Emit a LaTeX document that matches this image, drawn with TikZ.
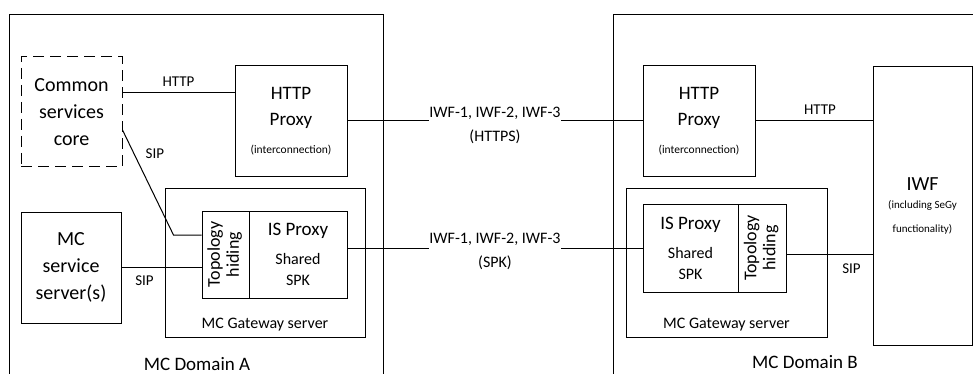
\documentclass[tikz,border=0pt]{standalone}
\usepackage{fontspec}
\setmainfont{Carlito}
\usetikzlibrary{positioning}

\begin{document}
\begin{tikzpicture}[x=1pt, y=-1pt]
\tikzstyle{box} = [rectangle, draw=black, line width=1pt, inner sep=0pt, align=center]
\tikzstyle{dashbox} = [box, dash pattern=on 11pt off 6pt]
\tikzstyle{link} = [line width=1pt]
\tikzstyle{lbl} = [inner sep=1pt, font=\fontsize{15}{18}\selectfont]
\tikzstyle{iwflbl} = [inner sep=0pt, fill=white, align=center, font=\fontsize{16}{24}\selectfont]
\tikzstyle{bigtxt} = [font=\fontsize{20}{27}\selectfont]
\tikzstyle{proxytxt} = [font=\fontsize{19}{26}\selectfont]
\tikzstyle{istxt} = [font=\fontsize{16}{21}\selectfont]
\tikzstyle{topotxt} = [font=\fontsize{18}{19}\selectfont]
\tikzstyle{gwtxt} = [inner sep=0pt, font=\fontsize{16}{19}\selectfont]
\tikzstyle{domtxt} = [inner sep=0pt, font=\fontsize{19}{23}\selectfont]

\useasboundingbox (0,0) rectangle (973,374);
\clip (0,0) rectangle (973,374);

% Domains
\node (domA) [box, minimum width=374pt, minimum height=405pt] at (196,217.5) {};
\node (domB) [box, minimum width=387pt, minimum height=405pt] at (806.5,217.5) {};

% Domain A
\node (csc) [dashbox, bigtxt, minimum width=101pt, minimum height=110pt] at (71.5,112) {Common\\services\\core};
\node (proxyA) [box, proxytxt, minimum width=112pt, minimum height=110pt] at (291,121) {HTTP\\Proxy\\[2pt]{\fontsize{11.5}{14}\selectfont (interconnection)}};
\node (mcs) [box, bigtxt, minimum width=100pt, minimum height=111pt] at (71,267.5) {MC\\service\\server(s)};
\node (gwA) [box, minimum width=200pt, minimum height=149pt] at (265,262.5) {};
\node (topoA) [box, topotxt, minimum width=47pt, minimum height=87pt] at (225.5,254.5) {\rotatebox{90}{\begin{tabular}{@{}c@{}}Topology\\hiding\end{tabular}}};
\node (isA) [box, istxt, minimum width=98pt, minimum height=87pt] at (298,254.5) {{\fontsize{19}{21}\selectfont IS Proxy}\\[8pt]Shared\\SPK};
\node (gwAtxt) [gwtxt, above=6pt of gwA.south] {MC Gateway server};
\node (domAtxt) [domtxt] at (197,364) {MC Domain A};

% Domain B
\node (proxyB) [box, proxytxt, minimum width=112pt, minimum height=110pt] at (699,121) {HTTP\\Proxy\\[2pt]{\fontsize{11.5}{14}\selectfont (interconnection)}};
\node (gwB) [box, minimum width=201pt, minimum height=149pt] at (726.5,262.5) {};
\node (isB) [box, istxt, minimum width=95pt, minimum height=88pt] at (690.5,248) {{\fontsize{19}{21}\selectfont IS Proxy}\\[8pt]Shared\\SPK};
\node (topoB) [box, topotxt, minimum width=48pt, minimum height=88pt] at (762,248) {\rotatebox{90}{\begin{tabular}{@{}c@{}}Topology\\hiding\end{tabular}}};
\node (gwBtxt) [gwtxt, above=6pt of gwB.south] {MC Gateway server};
\node (iwf) [box, font=\fontsize{11}{24}\selectfont, minimum width=99pt, minimum height=278pt] at (922.5,206) {{\fontsize{20}{24}\selectfont IWF}\\[-6pt](including SeGy\\functionality)};
\node (domBtxt) [domtxt] at (805,362) {MC Domain B};

% Lines
\draw [link] ([yshift=19pt]csc.east) -- ([yshift=19pt]csc.east -| proxyA.west) node [lbl, midway, above=5pt] {HTTP};
\draw [link] ([yshift=-18pt]csc.east) -- node [lbl, pos=0.23, right=10pt] {SIP} ([xshift=-28pt,yshift=19.5pt]topoA.west) -- ([yshift=19.5pt]topoA.west);
\draw [link] (mcs.east) -- (mcs.east -| topoA.west) node [lbl, midway, below=7pt, xshift=-17pt] {SIP};
\draw [link] (proxyA) -- node [iwflbl, yshift=-4pt] {IWF-1, IWF-2, IWF-3\\(HTTPS)} (proxyB);
\draw [link] (isA.east |- isB.west) -- node [iwflbl, yshift=-3pt] {IWF-1, IWF-2, IWF-3\\(SPK)} (isB.west);
\draw [link] (proxyB.east) -- (proxyB.east -| iwf.west) node [lbl, midway, above=5pt, xshift=6pt] {HTTP};
\draw [link] ([yshift=-6pt]topoB.east) -- ([yshift=-6pt]topoB.east -| iwf.west) node [lbl, midway, below=8pt, xshift=22pt] {SIP};

\end{tikzpicture}
\end{document}
